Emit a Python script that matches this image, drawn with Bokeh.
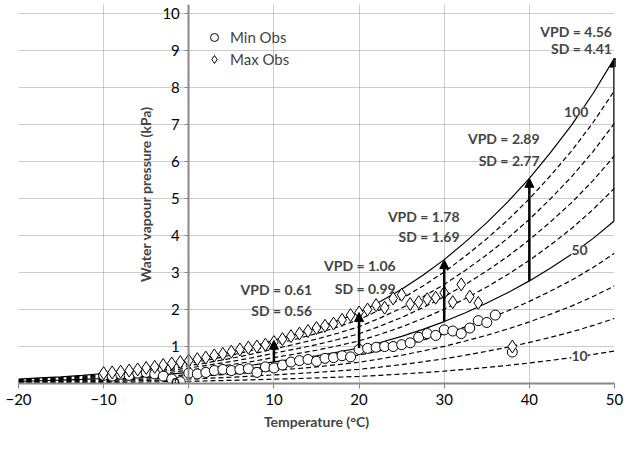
from bokeh.plotting import figure
from bokeh.models import Arrow, NormalHead, Label, Legend, LegendItem, Range1d, FixedTicker
from bokeh.embed import file_html
from bokeh.resources import INLINE

# saturation curve (kPa)
temps = [-20, -17.5, -15, -12.5, -10, -7.5, -5, -2.5, 0, 2.5, 5, 7.5, 10, 12.5, 15, 17.5, 20, 22.5, 25, 27.5, 30, 32.5, 35, 37.5, 40, 42.5, 45, 47.5, 50]
es = [0.12, 0.15, 0.18, 0.22, 0.27, 0.33, 0.40, 0.49, 0.60, 0.72, 0.85, 1.0, 1.17, 1.33, 1.50, 1.70, 1.92, 2.22, 2.55, 2.93, 3.35, 3.83, 4.35, 4.92, 5.55, 6.25, 7.0, 7.85, 8.8]
rh_levels = [10, 20, 30, 40, 50, 60, 70, 80, 90, 100]

max_t = [-10, -9, -8, -7, -6, -5, -4, -3, -2, -1, 0, 1, 2, 3, 4, 5, 6, 7, 8, 9, 10, 11, 12, 13, 14, 15, 16, 17, 18, 19, 20, 21, 22, 23, 24, 25, 26, 27, 28, 29, 30, 31, 32, 33, 34, 38]
max_v = [0.28, 0.30, 0.32, 0.35, 0.38, 0.42, 0.45, 0.50, 0.54, 0.58, 0.62, 0.66, 0.70, 0.76, 0.80, 0.86, 0.92, 0.97, 1.0, 1.05, 1.12, 1.2, 1.28, 1.35, 1.42, 1.5, 1.56, 1.62, 1.72, 1.85, 1.92, 2.0, 2.12, 2.05, 2.3, 2.4, 2.15, 2.2, 2.28, 2.32, 2.45, 2.2, 2.68, 2.35, 2.18, 1.0]
min_t = [-10, -9, -8, -7, -6, -5, -4, -3, -2, -1, 0, 1, 2, 3, 4, 5, 6, 7, 8, 9, 10, 11, 12, 13, 14, 15, 16, 17, 18, 19, 20, 21, 22, 23, 24, 25, 26, 27, 28, 29, 30, 31, 32, 33, 34, 35, 36, 38]
min_v = [0.22, 0.20, 0.25, 0.22, 0.28, 0.30, 0.26, 0.20, 0.12, 0.05, 0.28, 0.26, 0.30, 0.35, 0.38, 0.35, 0.38, 0.40, 0.30, 0.45, 0.42, 0.50, 0.58, 0.62, 0.65, 0.60, 0.68, 0.70, 0.75, 0.72, 0.92, 0.95, 0.98, 1.0, 1.0, 1.05, 1.1, 1.25, 1.35, 1.3, 1.45, 1.42, 1.35, 1.5, 1.7, 1.65, 1.85, 0.85]

arrow_t = [10, 20, 30, 40, 50]
vpd = ["0.61", "1.06", "1.78", "2.89", "4.56"]
sd = ["0.56", "0.99", "1.69", "2.77", "4.41"]
vpd_pos = [(14.5, 2.54, 1.98), (24.3, 3.2, 2.57), (31.8, 4.52, 3.98), (41.2, 6.63, 6.04), (49.7, 9.52, 9.06)]

FONT = "Lato"
p = figure(frame_width=596, frame_height=379, output_backend="svg", toolbar_location=None,
           x_range=Range1d(-20, 50), y_range=Range1d(0, 10.25),
           min_border_left=18, min_border_right=12, min_border_top=4, min_border_bottom=45)
p.outline_line_color = None
p.xgrid.grid_line_dash = "1 1"; p.ygrid.grid_line_dash = "1 1"
p.xgrid.grid_line_color = "#999999"; p.ygrid.grid_line_color = "#999999"
p.xaxis.ticker = FixedTicker(ticks=list(range(-20, 51, 10)))
p.yaxis.ticker = FixedTicker(ticks=list(range(0, 11)))
p.yaxis.fixed_location = 0
for ax in (p.xaxis, p.yaxis):
    ax.axis_line_color = "#888888"; ax.axis_line_width = 2
    ax.major_tick_line_color = "#888888"; ax.minor_tick_line_color = None
    ax.major_label_text_font = FONT; ax.major_label_text_font_size = "15px"
    ax.major_label_text_color = "black"
    ax.axis_label_text_font = FONT; ax.axis_label_text_font_style = "bold"
    ax.axis_label_text_font_size = "14px"
p.xaxis.axis_label = "Temperature (°C)"
p.yaxis.axis_label = "Water vapour pressure (kPa)"
p.xaxis.major_tick_out = 5; p.xaxis.major_tick_in = 0
p.yaxis.major_tick_out = 4; p.yaxis.major_tick_in = 0

for rh in rh_levels:
    ys = [e * rh / 100 for e in es]
    if rh in (50, 100):
        p.line(temps, ys, line_color="black", line_width=1.2)
    else:
        p.line(temps, ys, line_color="black", line_width=1.2, line_dash="5 3")

rmin = p.scatter(min_t, min_v, marker="circle", size=10, fill_color="white", line_color="black")
rmax = p.scatter(max_t, max_v, marker="diamond", size=13, fill_color="white", line_color="black")

for t in arrow_t:
    e = es[temps.index(t)]
    p.add_layout(Arrow(end=NormalHead(size=9, fill_color="black", line_color="black"),
                       x_start=t, y_start=e * 0.5, x_end=t, y_end=e,
                       line_width=2.5, line_color="black"))

for (xr, y1, y2), v, s in zip(vpd_pos, vpd, sd):
    for yy, txt in ((y1, "VPD = " + v), (y2, "SD = " + s)):
        p.add_layout(Label(x=xr, y=yy, text=txt, text_align="right", text_baseline="middle",
                           text_font=FONT, text_font_style="bold", text_font_size="14px"))

for xx, yy, txt in ((45.5, 7.35, "100"), (45.9, 3.6, "50"), (45.9, 0.75, "10")):
    p.add_layout(Label(x=xx, y=yy, text=txt, text_align="center", text_baseline="middle",
                       text_font=FONT, text_font_style="bold", text_font_size="14px",
                       background_fill_color="white"))

legend = Legend(items=[LegendItem(label="Min Obs", renderers=[rmin]),
                       LegendItem(label="Max Obs", renderers=[rmax])],
                location=(185, 314), border_line_color=None, background_fill_alpha=0,
                label_text_font=FONT, label_text_font_size="15px", spacing=2, padding=0,
                glyph_width=22)
p.add_layout(legend)

open("out.html", "w").write(file_html(p, INLINE))
